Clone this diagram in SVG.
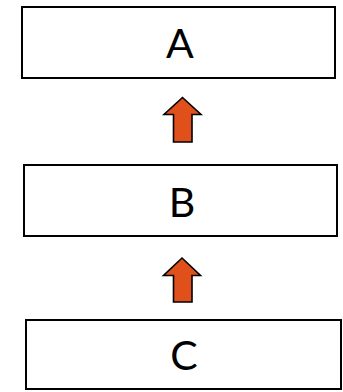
<svg xmlns="http://www.w3.org/2000/svg" width="343" height="392" viewBox="0 0 343 392">
<style>
.box{fill:#fff;stroke:#000;stroke-width:2}
.lbl{font-family:Lato,"Open Sans",sans-serif;font-size:41px;fill:#000;text-anchor:middle}
.arr{fill:#E0501A;stroke:#000;stroke-width:1.6;stroke-linejoin:miter}
</style>
<rect width="343" height="392" fill="#fff"/>
<g id="connectors">
<polygon class="arr" points="182.5,97.5 201,114.5 192,114.5 192,142 173.5,142 173.5,114.5 164,114.5"/>
<polygon class="arr" points="182,258 200.5,275.5 192,275.5 192,302 173.5,302 173.5,275.5 163.5,275.5"/>
</g>
<g id="nodeA">
<rect class="box" x="22" y="7" width="313" height="71"/>
<text class="lbl" x="180" y="58">A</text>
</g>
<g id="nodeB">
<rect class="box" x="24" y="165" width="313" height="71"/>
<text class="lbl" x="182" y="217">B</text>
</g>
<g id="nodeC">
<rect class="box" x="26" y="320" width="315" height="69"/>
<text class="lbl" x="184" y="370">C</text>
</g>
</svg>
